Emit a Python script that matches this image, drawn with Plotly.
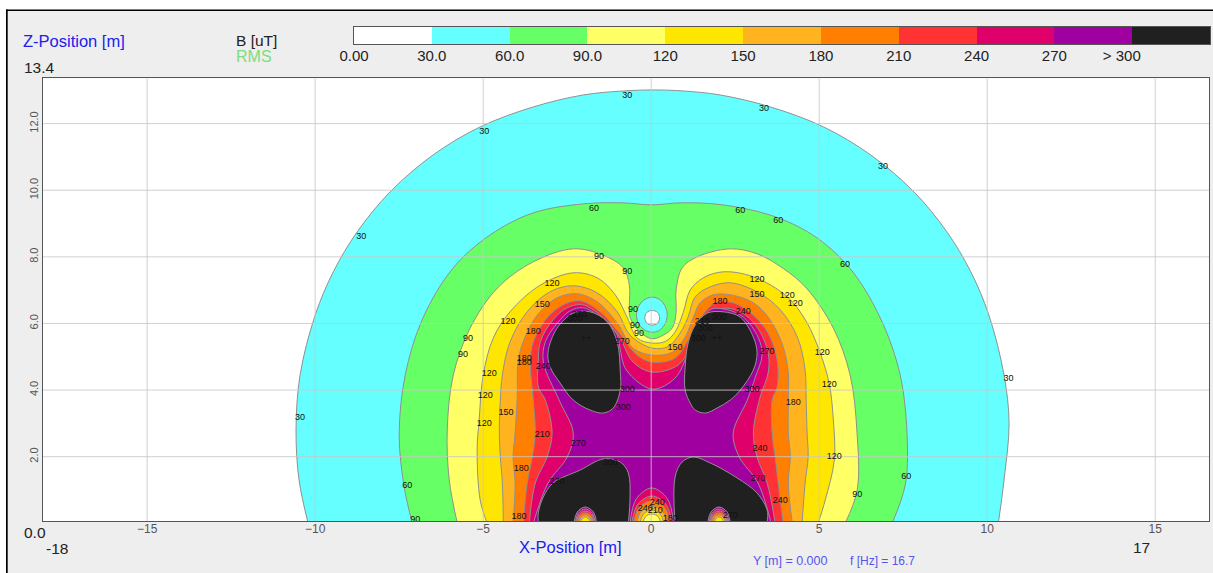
import plotly.graph_objects as go

W, H = 1213, 573
FONT = "Liberation Sans"

# Scale legend
LEGEND_EDGES = [0, 30, 60, 90, 120, 150, 180, 210, 240, 270, 300, 330]
LEGEND_TICK_VALUES = [0, 30, 60, 90, 120, 150, 180, 210, 240, 270, 296]
LEGEND_TICK_TEXT = ["0.00", "30.0", "60.0", "90.0", "120", "150", "180", "210", "240", "270", "> 300"]
BAND_COLORS = ["#FFFFFF", "#66FFFF", "#66FF66", "#FFFF66", "#FFE600", "#FFB31F",
               "#FF8000", "#FF3333", "#E0006B", "#A0009F", "#202020"]

X_TICKS = [-15, -10, -5, 0, 5, 10, 15]
Z_TICKS = [2, 4, 6, 8, 10, 12]

# Iso-lines of B [uT]: (x [m], z [m])
LEVEL_30 = [(-10.21,0),(-10.48,1.3),(-10.57,2.8),(-10.45,4.45),(-10.0,6.25),(-9.46,7.55),(-8.75,8.75),(-7.77,9.95),
            (-6.49,11.06),(-5.09,11.9),(-3.51,12.5),(-2.02,12.86),(-0.83,12.98),(0.06,13.01),(0.95,12.98),(2.05,12.86),
            (3.55,12.5),(5.13,11.9),(6.53,11.06),(7.82,9.95),(8.8,8.75),(9.51,7.55),(10.05,6.25),(10.5,4.45),
            (10.65,3.0),(10.5,1.3),(10.33,0)]
LEVEL_60 = [(-7.11,0),(-7.35,1.09),(-7.5,2.65),(-7.32,4.45),(-6.79,6.17),(-5.89,7.67),(-4.79,8.66),(-3.51,9.32),(-2.02,9.59),
            (-0.83,9.62),(0,9.56),(0.86,9.62),(2.05,9.57),(3.55,9.25),(4.8,8.66),(5.9,7.67),(6.8,6.2),(7.41,4.45),(7.62,2.5),
            (7.56,1.15),(7.17,0)]
LEVEL_90 = [(-5.77,0),(-6.01,1.3),(-6.07,2.8),(-5.89,4.45),(-5.39,5.86),(-4.58,7.06),(-3.51,7.85),(-2.32,8.24),(-1.43,8.05),
            (-0.83,7.67),(-0.65,7.15),(-0.65,6.55),(-0.63,6.19),(-0.33,5.74),(0.03,5.54),(0.36,5.65),(0.63,5.87),(0.74,6.32),
            (0.74,7.0),(0.92,7.67),(1.37,8.0),(2.35,8.24),(3.15,8.09),(3.93,7.65),
            (4.62,7.06),(5.42,5.86),(5.92,4.45),(6.12,2.8),(6.13,1.0),(5.77,0)]
LEVEL_120 = [(-4.88,0),(-5.09,0.7),(-5.18,2.2),(-5.12,3.1),(-5.0,4.45),(-4.7,5.56),(-4.2,6.35),(-3.3,7.15),(-2.32,7.52),
             (-1.61,7.37),(-1.07,6.86),(-0.71,6.17),(-0.42,5.56),(0.03,5.41),(0.42,5.46),(0.71,5.74),(0.95,6.32),
             (1.16,7.0),(1.55,7.37),(2.14,7.55),(3.04,7.4),(4.05,6.8),(4.62,6.05),(5.03,5.11),(5.3,4.18),
             (5.42,3.1),(5.45,1.9),(5.18,0.7),(4.97,0)]
LEVEL_150 = [(-4.4,0),(-4.43,1.21),(-4.49,1.99),(-4.52,2.71),(-4.49,3.7),(-4.43,4.45),(-4.2,5.45),(-3.69,6.35),(-3.01,6.95),
             (-2.32,7.13),(-1.61,6.92),(-1.01,6.35),(-0.63,5.65),(0.03,5.26),(0.51,5.31),(0.86,5.71),(1.1,6.2),
             (1.31,6.8),(1.76,7.1),(2.35,7.22),(3.15,6.95),(3.84,6.41),(4.35,5.59),(4.58,4.6),(4.61,3.7),(4.64,2.71),
             (4.67,1.99),(4.58,1.21),(4.49,0)]
LEVEL_180 = [(-4.11,0),(-4.05,1.21),(-4.11,1.99),(-4.05,2.71),(-3.99,3.7),(-3.96,4.84),(-3.81,5.45),(-3.39,6.25),(-2.8,6.77),
             (-2.2,6.89),(-1.61,6.65),(-1.01,6.01),(-0.54,5.26),(0.03,5.05),(0.63,5.14),(1.01,5.59),(1.25,6.17),(1.46,6.62),
             (1.85,6.86),(2.35,6.86),(3.04,6.62),(3.54,6.11),(3.93,5.29),(4.08,4.51),(4.08,3.7),(4.08,2.71),(4.14,1.99),
             (4.08,1.21),(4.2,0)]
LEVEL_210 = [(-3.81,0),(-3.69,1.21),(-3.54,1.99),(-3.45,2.71),(-3.51,3.7),(-3.6,4.84),(-3.51,5.45),(-3.1,6.17),(-2.62,6.56),
             (-2.11,6.68),(-1.52,6.35),(-0.98,5.75),(-0.42,5.05),(0.03,4.84),(0.71,4.96),(1.1,5.5),(1.37,6.01),(1.9,6.62),
             (2.44,6.62),(3.04,6.25),(3.48,5.71),(3.75,4.9),(3.75,4.09),(3.6,3.7),(3.6,2.71),(3.69,1.99),(3.78,1.21),(3.93,0)]
LEVEL_240 = [(-3.63,0),(-3.45,1.21),(-3.1,1.99),(-2.95,2.71),(-3.15,3.7),(-3.36,4.09),(-3.36,4.84),(-3.3,5.45),(-2.92,6.11),
             (-2.5,6.47),(-2.05,6.56),(-1.52,6.25),(-0.98,5.65),(-0.54,4.84),(0.03,4.54),(0.8,4.75),(1.22,5.35),(1.46,5.89),
             (1.67,6.31),(2.14,6.46),(2.65,6.35),(3.15,5.89),(3.48,5.11),(3.48,4.51),(3.24,3.79),(3.04,2.71),(3.15,1.99),
             (3.45,1.21),(3.69,0)]
LEVEL_270 = [(-3.51,0),(-3.07,1.21),(-2.5,1.99),(-2.32,2.71),(-2.74,3.7),(-3.21,4.84),(-3.15,5.45),(-2.8,6.0),(-2.41,6.38),
             (-2.02,6.47),(-1.52,6.19),(-1.01,5.65),(-0.92,5.2),(-0.74,4.6),(0.03,4.03),(0.71,4.36),(1.1,5.11),
             (1.37,5.71),(1.76,6.41),(2.26,6.41),(2.74,6.19),(3.18,5.59),(3.3,5.05),(3.1,4.39),(2.86,3.7),(2.44,2.71),
             (2.62,1.99),(3.18,1.21),(3.57,0)]
LOBE_300_UL = [(-3.07,5.14),(-2.8,5.86),(-2.32,6.31),(-1.82,6.35),(-1.31,6.05),(-1.01,5.44),(-0.92,4.54),
               (-0.92,4.0),(-1.13,3.46),(-1.43,3.31),(-1.82,3.4),(-2.32,3.7),(-2.71,4.21),(-3.01,4.7),(-3.07,5.14)]
LOBE_300_UR = [(3.15,5.11),(3.04,5.59),(2.65,6.19),(2.14,6.35),(1.67,6.31),(1.31,5.95),(1.1,5.41),(1.01,4.69),(1.01,4.0),
               (1.16,3.61),(1.31,3.4),(1.61,3.31),(1.96,3.46),(2.35,3.7),(2.65,4.0),(3.04,4.6),(3.15,5.11)]
LOBE_300_LL = [(-3.36,0),(-3.36,0.31),(-3.21,0.79),(-2.92,1.21),(-2.11,1.6),(-1.43,1.93),(-0.92,1.84),(-0.68,1.51),(-0.63,0.79),(-0.68,0)]
LOBE_300_LR = [(0.71,0),(0.71,1.39),(0.92,1.84),(1.25,1.99),(1.76,1.81),(2.56,1.36),(3.15,0.91),(3.45,0.4),(3.45,0)]
ISLAND_30 = [(0.04,6.79),(0.3,6.68),(0.47,6.35),(0.42,6.0),(0.22,5.78),(0.04,5.74),(-0.15,5.78),(-0.38,6.0),(-0.43,6.35),(-0.25,6.68),(0.04,6.79)]
HOLE = [(0.03,6.39),(0.19,6.33),(0.25,6.17),(0.19,6.01),(0.03,5.95),(-0.13,6.01),(-0.19,6.17),(-0.13,6.33),(0.03,6.39)]

BUMP_L_300 = [(-2.30,0),(-2.2,0.34),(-1.96,0.49),(-1.72,0.34),(-1.62,0)]
BUMP_L_270 = [(-2.26,0),(-2.17,0.30),(-1.96,0.43),(-1.75,0.30),(-1.66,0)]
BUMP_L_240 = [(-2.23,0),(-2.15,0.26),(-1.96,0.37),(-1.77,0.26),(-1.69,0)]
BUMP_L_210 = [(-2.20,0),(-2.13,0.22),(-1.96,0.31),(-1.79,0.22),(-1.72,0)]
BUMP_L_180 = [(-2.15,0),(-2.09,0.18),(-1.96,0.25),(-1.83,0.18),(-1.77,0)]
BUMP_L_150 = [(-2.11,0),(-2.06,0.13),(-1.96,0.19),(-1.86,0.13),(-1.81,0)]
BUMP_R_300 = [(1.68,0),(1.78,0.34),(2.02,0.49),(2.26,0.34),(2.36,0)]
BUMP_R_270 = [(1.72,0),(1.81,0.30),(2.02,0.43),(2.23,0.30),(2.32,0)]
BUMP_R_240 = [(1.75,0),(1.83,0.26),(2.02,0.37),(2.21,0.26),(2.29,0)]
BUMP_R_210 = [(1.78,0),(1.85,0.22),(2.02,0.31),(2.19,0.22),(2.26,0)]
BUMP_R_180 = [(1.83,0),(1.89,0.18),(2.02,0.25),(2.15,0.18),(2.21,0)]
BUMP_R_150 = [(1.87,0),(1.92,0.13),(2.02,0.19),(2.12,0.13),(2.17,0)]
DOME_270 = [(-0.63,0),(-0.44,0.74),(0.02,1.06),(0.48,0.74),(0.67,0)]
DOME_240 = [(-0.58,0),(-0.4,0.57),(0.02,0.82),(0.44,0.57),(0.62,0)]
DOME_210 = [(-0.52,0),(-0.36,0.47),(0.02,0.67),(0.40,0.47),(0.56,0)]
DOME_180 = [(-0.43,0),(-0.30,0.36),(0.02,0.52),(0.34,0.36),(0.47,0)]
DOME_150 = [(-0.34,0),(-0.23,0.28),(0.02,0.40),(0.27,0.28),(0.38,0)]
DOME_120 = [(-0.25,0),(-0.17,0.20),(0.02,0.28),(0.21,0.20),(0.29,0)]

# Iso-line value labels: (x [m], z [m])
LABELS_30 = [(-0.71,12.83),(-4.97,11.75),(3.36,12.44),(6.9,10.7),(-8.63,8.6),(10.63,4.33),(-10.45,3.16)]
LABELS_60 = [(-1.7,9.44),(2.65,9.38),(3.78,9.08),(5.77,7.76),(-7.26,1.12),(7.59,1.39)]
LABELS_90 = [(-1.55,8.0),(-0.71,7.55),(-0.54,6.41),(-0.48,5.92),(-0.36,5.68),(-5.45,5.53),(-5.6,5.05),(6.13,0.85),(-7.02,0.1)]
LABELS_120 = [(-4.82,4.48),(-4.94,3.82),(-4.97,2.98),(-4.26,6.04),(-2.95,7.19),(3.15,7.3),(4.05,6.83),(4.29,6.59),(5.09,5.11),(5.3,4.15),(5.45,1.99)]
LABELS_150 = [(-3.24,6.56),(-4.32,3.31),(3.15,6.86),(0.71,5.26)]
LABELS_180 = [(-3.51,5.74),(-3.78,4.93),(-3.78,4.81),(2.05,6.65),(4.23,3.61),(-3.87,1.63),(-3.93,0.19),(0.57,0.13)]
LABELS_210 = [(-3.24,2.65),(1.52,6.04),(0.12,0.37)]
LABELS_240 = [(-3.21,4.69),(2.74,6.35),(3.24,2.23),(3.84,0.67),(0.18,0.61),(-0.18,0.43)]
LABELS_270 = [(-2.14,6.25),(-0.86,5.44),(3.45,5.14),(-2.17,2.38),(-2.8,1.24),(3.18,1.33),(2.35,0.22)]
LABELS_300 = [(-2.26,6.13),(-0.71,4.0),(-0.83,3.46),(2.02,6.17),(1.61,5.83),(1.4,5.53),(3.0,4.0),(-1.22,1.81)]
MARKS = [(-1.93,5.53),(1.96,5.53)]

WHITE, CYAN, GREEN, LYEL, YEL, AMB, ORG, RED, MAG, PUR, BLK = BAND_COLORS
LAYERS = [
    (LEVEL_30, CYAN), (LEVEL_60, GREEN), (LEVEL_90, LYEL), (ISLAND_30, CYAN), (HOLE, WHITE),
    (LEVEL_120, YEL), (LEVEL_150, AMB), (LEVEL_180, ORG), (LEVEL_210, RED), (LEVEL_240, MAG), (LEVEL_270, PUR),
    (LOBE_300_UL, BLK), (LOBE_300_UR, BLK), (LOBE_300_LL, BLK), (LOBE_300_LR, BLK),
    (BUMP_L_300, PUR), (BUMP_L_270, MAG), (BUMP_L_240, RED), (BUMP_L_210, ORG), (BUMP_L_180, AMB), (BUMP_L_150, YEL),
    (BUMP_R_300, PUR), (BUMP_R_270, MAG), (BUMP_R_240, RED), (BUMP_R_210, ORG), (BUMP_R_180, AMB), (BUMP_R_150, YEL),
    (DOME_270, MAG), (DOME_240, RED), (DOME_210, ORG), (DOME_180, AMB), (DOME_150, YEL), (DOME_120, LYEL),
]
LABEL_SETS = [("30", LABELS_30), ("60", LABELS_60), ("90", LABELS_90), ("120", LABELS_120), ("150", LABELS_150),
              ("180", LABELS_180), ("210", LABELS_210), ("240", LABELS_240), ("270", LABELS_270), ("300", LABELS_300),
              ("++", MARKS)]

XR = [-18.1, 16.6]
ZR = [0.06, 13.36]

fig = go.Figure()
for pts, col in LAYERS:
    fig.add_trace(go.Scatter(x=[p[0] for p in pts], y=[p[1] for p in pts], mode="lines",
                             line=dict(color="#909090", width=1, shape="spline", smoothing=1.0),
                             fill="toself", fillcolor=col, hoverinfo="skip", showlegend=False))

# grid lines run on top of the filled bands
gx, gy = [], []
for v in X_TICKS:
    gx += [v, v, None]; gy += [ZR[0], ZR[1], None]
for v in Z_TICKS:
    gx += [XR[0], XR[1], None]; gy += [v, v, None]
fig.add_trace(go.Scatter(x=gx, y=gy, mode="lines", line=dict(color="rgba(200,200,200,0.85)", width=1),
                         hoverinfo="skip", showlegend=False))

for txt, pts in LABEL_SETS:
    fig.add_trace(go.Scatter(x=[p[0] for p in pts], y=[p[1] for p in pts], mode="text",
                             text=[txt] * len(pts), textposition="middle center",
                             textfont=dict(family=FONT, size=9, color="#111111"),
                             hoverinfo="skip", showlegend=False))

# colour scale
fig.add_trace(go.Bar(x=[(a + b) / 2 for a, b in zip(LEGEND_EDGES[:-1], LEGEND_EDGES[1:])],
                     y=[1] * len(BAND_COLORS), width=[b - a for a, b in zip(LEGEND_EDGES[:-1], LEGEND_EDGES[1:])],
                     marker=dict(color=BAND_COLORS, line=dict(width=0)), xaxis="x2", yaxis="y2",
                     hoverinfo="skip", showlegend=False))


def px(x):
    return x / W


def py(y):
    return 1 - y / H


def label(text, x, y, size, color="#222222", anchor="left"):
    return dict(text=text, x=px(x), y=py(y), xref="paper", yref="paper", xanchor=anchor, yanchor="middle",
                showarrow=False, font=dict(family=FONT, size=size, color=color))


BLUE = "#2020EE"
annotations = [
    label("Z-Position [m]", 21, 41, 16.5, BLUE),
    label("B [uT]", 234, 40, 15.5),
    label("RMS", 234, 57, 16, "#7EDD7E"),
    label("13.4", 22, 68, 15.5),
    label("0.0", 22, 532, 15.5),
    label("-18", 44, 548, 15.5),
    label("17", 1131, 547, 15.5),
    label("X-Position [m]", 517, 547, 16.5, BLUE),
    label("Y [m] = 0.000", 751, 561, 12.5, "#5555EE"),
    label("f [Hz] = 16.7", 848, 561, 12, "#5555EE"),
]


def rect(x0, y0, x1, y1, color):
    return dict(type="rect", xref="paper", yref="paper", x0=px(x0), x1=px(x1), y0=py(y0), y1=py(y1),
                fillcolor=color, line=dict(width=0), layer="below")


shapes = [
    rect(0, 0, W, 9.5, "#FFFFFF"),
    rect(0, 0, 6, H, "#FFFFFF"),
    rect(6, 9.5, W, 11, "#000000"),
    rect(6, 9.5, 7.7, H, "#000000"),
]

fig.update_layout(
    width=W, height=H, autosize=False,
    margin=dict(l=0, r=0, t=0, b=0, pad=0, autoexpand=False),
    paper_bgcolor="#EEEEEE", plot_bgcolor="#FFFFFF",
    font=dict(family=FONT),
    bargap=0, showlegend=False, hovermode=False,
    annotations=annotations, shapes=shapes,
    xaxis=dict(domain=[px(43), px(1209)], range=XR, tickvals=X_TICKS, ticks="", showgrid=False, zeroline=False,
               automargin=False, showline=True, mirror=True, linecolor="#555555", linewidth=1, ticklabelstandoff=-4,
               tickfont=dict(family=FONT, size=12, color="#555555"), fixedrange=True),
    yaxis=dict(domain=[py(521.3), py(78.3)], range=ZR, tickvals=Z_TICKS, ticktext=[f"{v:.1f}" for v in Z_TICKS],
               ticks="", tickangle=-90, showgrid=False, zeroline=False, automargin=False,
               showline=True, mirror=True, linecolor="#555555", linewidth=1,
               tickfont=dict(family=FONT, size=11, color="#555555"), fixedrange=True),
    xaxis2=dict(domain=[px(354), px(1210)], range=[LEGEND_EDGES[0], LEGEND_EDGES[-1]], anchor="y2",
                tickvals=LEGEND_TICK_VALUES, ticktext=LEGEND_TICK_TEXT, ticks="", showgrid=False, zeroline=False,
                automargin=False, showline=True, mirror=True, linecolor="#555555", linewidth=1, ticklabelstandoff=-2,
                tickfont=dict(family=FONT, size=15, color="#222222"), fixedrange=True),
    yaxis2=dict(domain=[py(44), py(27)], range=[0, 1], anchor="x2", showticklabels=False, ticks="", showgrid=False,
                automargin=False, zeroline=False, showline=True, mirror=True, linecolor="#555555", linewidth=1,
                fixedrange=True),
)

fig.write_html("out.html", config={"displayModeBar": False},
               post_script="document.body.style.margin='0';document.body.style.overflow='hidden';")
